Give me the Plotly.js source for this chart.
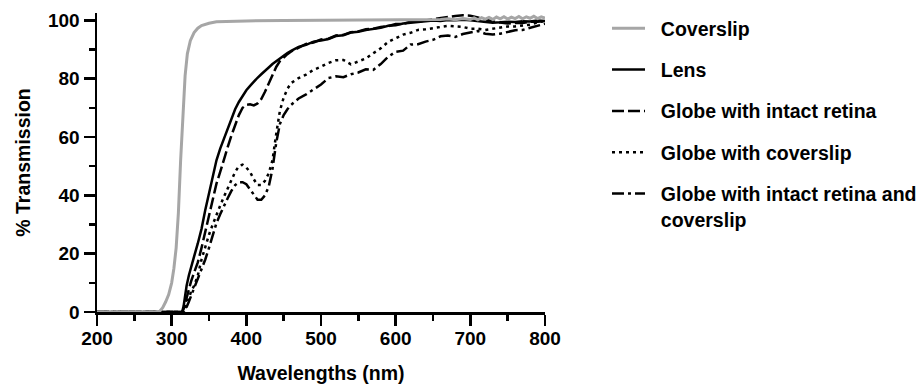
<!DOCTYPE html>
<html>
<head>
<meta charset="utf-8">
<script src="https://cdn.plot.ly/plotly-3.0.1.min.js"></script>
<style>html,body{margin:0;padding:0;background:#fff;}#chart{width:921px;height:386px;}</style>
</head>
<body>
<div id="chart"></div>
<script>
// Wavelength grid (nm) shared by the four eye-tissue series
const wavelengths = [200, 300, 310, 314, 316, 318, 320, 323, 326, 330,
  335, 340, 345, 350, 355, 360, 365, 370, 375, 380, 385, 390, 395, 400, 405, 410, 415, 420, 425, 430, 435, 440, 445, 450, 455, 460,
  470, 480, 490, 500, 510, 520, 530, 540, 550, 560, 570, 580, 590, 600, 610, 620, 630, 640, 650, 660, 670, 680, 690, 700,
  710, 720, 730, 740, 750, 760, 770, 780, 790, 800];

const lens = [0, 0, 0, 0, 2, 6, 9, 12.5, 15, 19,
  23.5, 28.5, 35, 41, 47, 52, 56, 59.5, 63, 66.5, 69.5, 72, 74, 76, 77.5, 79, 80.3, 81.5, 82.5, 83.8, 85, 86, 87, 88, 88.8, 89.5,
  90.9, 91.6, 92.7, 93.1, 93.6, 94.6, 94.9, 95.8, 96.1, 96.7, 97.1, 97.4, 98.1, 98.3, 98.9, 99.1, 99.5, 99.5, 99.9, 99.8, 100.1, 100, 100.2, 100,
  99.8, 99.5, 99.2, 99.3, 99.5, 99.4, 99.7, 99.6, 99.9, 99.8];

const globeRetina = [0, 0, 0, 0, 1, 3, 5, 8, 10.5, 13.5,
  17, 22, 27.5, 33, 39, 44, 48, 52.5, 56.5, 60.5, 64, 67.5, 70, 71, 71.2, 70.8, 71.5, 73, 75.5, 78.5, 81.5, 84, 86, 87.3, 88.4, 89.3,
  90.7, 91.9, 92.4, 93.4, 93.7, 94.8, 95, 95.9, 96.2, 96.9, 97.1, 97.7, 98, 98.7, 98.8, 99.5, 99.6, 100, 100.2, 100.7, 101, 101.5, 101.7, 101.6,
  101, 100.3, 99.6, 99.2, 98.9, 99.1, 99.1, 99.5, 99.5, 99.8];

const globeCoverslip = [0, 0, 0, 0, 0, 1, 2.5, 5, 7, 9,
  12.5, 18, 22.5, 26.5, 30, 33.5, 36.5, 39.5, 42.5, 45.5, 48, 50, 50.5, 49.5, 48, 45.5, 43.5, 43.5, 45, 47.5, 52, 61, 69, 73.5, 76.5, 78.5,
  80.2, 81.4, 83, 84.1, 85.4, 86.3, 86.4, 84.9, 86, 86.9, 88.7, 90.4, 92.6, 93.8, 95.1, 95.7, 96.7, 96.9, 97.3, 97.5, 98.1, 97.9, 97.7, 97.1,
  97.1, 96.7, 97.1, 97.4, 97.9, 97.9, 98.3, 98.5, 99.3, 99.8];

const globeRetinaCoverslip = [0, 0, 0, 0, 0, 0.5, 1.5, 3.5, 5.5, 8,
  11.5, 14.5, 18, 22, 26.5, 30.5, 33.5, 36.5, 39, 41.5, 43.5, 44.5, 44.5, 43.8, 42, 40, 38.5, 38.5, 40, 43, 49, 58, 64.5, 67.5, 69.5, 71,
  73.2, 74.6, 76.4, 78, 80.2, 80.8, 80.5, 81.5, 82.1, 83.2, 83, 85, 87.5, 89.2, 89.6, 91.7, 91.8, 92.7, 93.3, 94.5, 94.8, 94.3, 95.3, 95.9,
  96.3, 95.4, 95.1, 95.4, 95.9, 96.6, 96.7, 97.4, 97.9, 98.8];

// Coverslip alone
const coverslipWl = [200, 280, 284, 288, 292, 296, 300, 303, 306, 309,
  312, 315, 318, 321, 325, 330, 335, 340, 350, 360,
  380, 400, 450, 500, 550, 600, 640, 660, 670, 680,
  690, 700, 705, 710, 715, 720, 725, 730, 735, 740,
  745, 750, 755, 760, 765, 770, 775, 780, 785, 790, 795, 800];
const coverslip = [0, 0, 0.3, 1.5, 3.5, 6, 10, 15, 22, 34,
  52, 69, 81, 88.5, 93, 95.8, 97.3, 98.2, 99, 99.5,
  99.7, 99.8, 99.9, 100, 100, 100.1, 100.2, 100.3, 100.5, 100.2,
  100.6, 100.3, 100.8, 100.2, 100.9, 100.4, 101, 100.3, 101.1, 100.5,
  101.2, 100.4, 101.1, 100.6, 101.3, 100.5, 101.2, 100.7, 101.4, 100.6, 101.2, 100.8];

const seriesNames = ["Coverslip", "Lens", "Globe with intact retina", "Globe with coverslip", "Globe with intact retina and<br>coverslip"];
const xTickVals = [200, 300, 400, 500, 600, 700, 800];
const yTickVals = [0, 20, 40, 60, 80, 100];

const FONT = "Liberation Sans, Arial, Helvetica, sans-serif";
const pad = "\u00A0\u00A0";
function legendText(t){ return pad + t.replace("<br>", "<br>" + pad); }

const W = 2.5;
const traces = [
  {x: wavelengths, y: lens, name: legendText(seriesNames[1]), legendrank: 2, legendgroup: "b",
   line: {color: "#000", width: W, dash: "solid"}},
  {x: wavelengths, y: globeRetina, name: legendText(seriesNames[2]), legendrank: 3, legendgroup: "c",
   line: {color: "#000", width: W, dash: "12px,4px"}},
  {x: wavelengths, y: globeCoverslip, name: legendText(seriesNames[3]), legendrank: 4, legendgroup: "d",
   line: {color: "#000", width: W, dash: "3px,4px"}},
  {x: wavelengths, y: globeRetinaCoverslip, name: legendText(seriesNames[4]), legendrank: 5, legendgroup: "e",
   line: {color: "#000", width: W, dash: "12px,4px,3px,4px"}},
  {x: coverslipWl, y: coverslip, name: legendText(seriesNames[0]), legendrank: 1, legendgroup: "a",
   line: {color: "#a6a6a6", width: 3, dash: "solid"}}
].map(t => Object.assign({type: "scatter", mode: "lines", hoverinfo: "skip"}, t));

const TS = 19.5;
const axisCommon = {
  showgrid: false, zeroline: false, showline: true, linecolor: "#000", linewidth: W,
  ticks: "outside", ticklen: 11, tickwidth: W, tickcolor: "#000",
  layer: "below traces", fixedrange: true
};

const layout = {
  width: 921, height: 386,
  margin: {l: 97, r: 376, t: 13, b: 74},
  paper_bgcolor: "#fff", plot_bgcolor: "#fff",
  font: {family: FONT, color: "#000"},
  xaxis: Object.assign({}, axisCommon, {
    range: [200, 800], tickmode: "array", tickvals: xTickVals, ticktext: xTickVals.map(String),
    minor: {dtick: 50, tick0: 200, ticks: "outside", ticklen: 6, tickwidth: W, tickcolor: "#000"},
    tickfont: {family: FONT, size: 19, color: "#000", weight: "bold"},
    ticklabelstandoff: -3,
    title: {text: "Wavelengths (nm)", font: {family: FONT, size: TS, color: "#000", weight: "bold"}, standoff: 18}
  }),
  yaxis: Object.assign({}, axisCommon, {
    range: [0, 102.5], tickmode: "array", tickvals: yTickVals, ticktext: yTickVals.map(String),
    minor: {dtick: 10, tick0: 0, ticks: "outside", ticklen: 6, tickwidth: W, tickcolor: "#000"},
    tickfont: {family: FONT, size: 19, color: "#000", weight: "bold"},
    ticklabelstandoff: 0,
    title: {text: "% Transmission", font: {family: FONT, size: TS, color: "#000", weight: "bold"}, standoff: 12}
  }),
  showlegend: true,
  legend: {
    xref: "container", yref: "container",
    x: 607 / 921, y: 1 - 9 / 386, xanchor: "left", yanchor: "top",
    traceorder: "grouped", tracegroupgap: 13, valign: "top",
    itemwidth: 33, itemclick: false, itemdoubleclick: false,
    maxheight: 370,
    bgcolor: "rgba(0,0,0,0)", borderwidth: 0,
    font: {family: FONT, size: 19.5, color: "#000", weight: "bold"}
  }
};

Plotly.newPlot("chart", traces, layout, {staticPlot: true, displayModeBar: false});
</script>
</body>
</html>
